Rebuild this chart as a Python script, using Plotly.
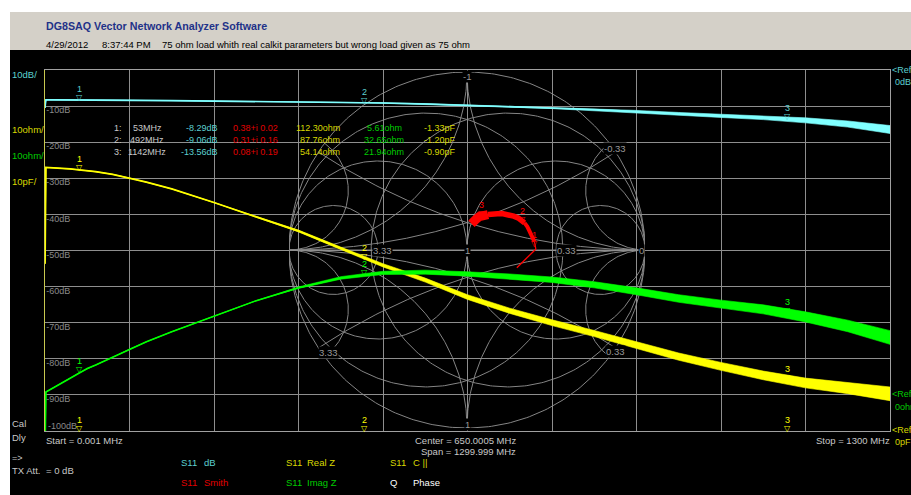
import numpy as np
import plotly.graph_objects as go

W, H = 911, 495

# ---- sweep data: S11 of the 75 ohm load, 0.001 .. 1300 MHz ----
freq_mhz = [0.001, 1.3, 13, 26, 39, 52, 65, 78, 104, 130, 156, 195, 260, 325, 390,
            455, 520, 585, 650, 715, 780, 845, 910, 975, 1040, 1105, 1170, 1235, 1300]
real_z_ohm = [86.3, 113.0, 112.9, 112.8, 112.6, 112.35, 112.1, 111.85, 111.1, 110.1, 108.95,
              107.05, 103.3, 99.3, 95.4, 90.6, 85.9, 81.8, 77.1, 73.3, 70.0, 67.0, 63.8,
              60.6, 57.9, 55.4, 53.3, 51.9, 50.3]
imag_z_ohm = [-18.9, 0.1, 1.3, 2.6, 4.0, 5.4, 6.6, 7.6, 9.7, 12.0, 14.0, 16.8, 21.2, 25.4,
              29.0, 31.7, 33.1, 33.3, 32.8, 32.1, 31.2, 29.8, 28.0, 26.0, 24.4, 23.0, 20.9,
              18.4, 15.2]
# half-width of the measurement noise band of each trace
db_spread = [0.03] * 14 + [0.05, 0.06, 0.08, 0.1, 0.13, 0.16, 0.2, 0.25, 0.3, 0.38, 0.45,
                           0.55, 0.7, 0.85, 1.1]
real_spread = [0.0] * 13 + [0.1, 0.25, 0.35, 0.45, 0.55, 0.65, 0.72, 0.8, 0.85, 0.95, 1.0,
                            1.1, 1.2, 1.35, 1.55, 1.9]
imag_spread = [0.0] * 14 + [0.2, 0.35, 0.45, 0.55, 0.6, 0.7, 0.75, 0.85, 0.95, 1.05, 1.15,
                            1.25, 1.4, 1.6, 1.9]

# ---- markers ----
marker_freq = [53, 492, 1142]
marker_db = [-8.29, -9.06, -13.56]
marker_s11_re = [0.38, 0.31, 0.08]
marker_s11_im = [0.02, 0.16, 0.19]
marker_real = [112.30, 87.76, 54.14]
marker_imag = [5.61, 32.65, 21.94]
marker_cpar = [-1.33, -1.20, -0.90]

# ---- axis scales (10 divisions each) ----
db_range = [-100, 0]
real_range = [40, 140]
imag_range = [-10.7, 89.3]
cpar_range = [0, 100]
db_ticks = [-10, -20, -30, -40, -50, -60, -70, -80, -90]
db_bottom_label = -100

# Smith chart grid values (normalised) and admittance labels
smith_grid = [0.3, 1.0, 3.0]
smith_label_y = [-1j, 1j, 0, 1, 10 / 3, 1 / 3, -1j / 3, 1j / 3, 10j / 3]
smith_label_txt = ['-1', '1', '0', '1', '3.33', '0.33', '-0.33', '0.33', '3.33']

Z0 = 50.0
f = np.array(freq_mhz)
z = np.array(real_z_ohm) + 1j * np.array(imag_z_ohm)
s11 = (z - Z0) / (z + Z0)
s11_db = 20 * np.log10(np.abs(s11))

CYAN, CYAN_TXT = '#80ffff', '#5cd0d0'
YEL, YEL_TXT = '#ffff00', '#d8d800'
GRN, GRN_TXT = '#00ff00', '#00cc00'
RED, RED_TXT = '#ff0000', '#e00000'
GREY_TXT = '#c8c8c8'
SCALE_TXT = '#8a8a8a'
FONT = 'Liberation Sans'

fig = go.Figure()

# ---- Smith chart grid (subplot x/y) ----
t = np.linspace(0, 2 * np.pi, 400)
curves = [np.exp(1j * t)]
for v in smith_grid:
    c, rad = v / (1 + v), 1 / (1 + v)
    curves.append(c + rad * np.exp(1j * t))
    curves.append(-c + rad * np.exp(1j * t))
r_sweep = np.concatenate([np.linspace(0, 5, 300), np.logspace(np.log10(5.05), 4, 120)])
for v in smith_grid:
    for s in (1, -1):
        zz = r_sweep + 1j * s * v
        g = (zz - 1) / (zz + 1)
        curves.append(g)
        curves.append(-g)
curves.append(np.array([-1 + 0j, 1 + 0j]))
gx, gy = [], []
for cv in curves:
    gx += list(cv.real) + [None]
    gy += list(cv.imag) + [None]
fig.add_trace(go.Scatter(x=gx, y=gy, xaxis='x', yaxis='y', mode='lines',
                         line=dict(color='#858585', width=1), hoverinfo='skip',
                         showlegend=False))


# ---- rectangular traces (subplot x2 with overlaid y axes) ----
def band(vals, spread, color, yaxis):
    v = np.asarray(vals)
    s = np.asarray(spread)
    xs = np.concatenate([f, f[::-1]])
    ys = np.concatenate([v + s, (v - s)[::-1]])
    return go.Scatter(x=xs, y=ys, xaxis='x2', yaxis=yaxis, mode='lines', fill='toself',
                      fillcolor=color, line=dict(width=0.6, color=color),
                      hoverinfo='skip', showlegend=False)


def line(vals, color, yaxis, width=1.6):
    return go.Scatter(x=f, y=vals, xaxis='x2', yaxis=yaxis, mode='lines',
                      line=dict(color=color, width=width), hoverinfo='skip',
                      showlegend=False)


fig.add_trace(band(s11_db, db_spread, CYAN, 'y2'))
fig.add_trace(line(s11_db, CYAN, 'y2'))
fig.add_trace(band(real_z_ohm, real_spread, YEL, 'y4'))
fig.add_trace(line(real_z_ohm, YEL, 'y4', 1.8))
fig.add_trace(band(imag_z_ohm, imag_spread, GRN, 'y5'))
fig.add_trace(line(imag_z_ohm, GRN, 'y5', 1.6))

# ---- Smith trace (subplot x3/y3, on top) ----
red_segments = [(0.0, 130, 1.3), (130, 455, 4.0), (455, 1040, 5.5), (1040, 1300, 9.0)]
for lo, hi, wd in red_segments:
    sel = (f >= lo) & (f <= hi)
    fig.add_trace(go.Scatter(x=s11.real[sel], y=s11.imag[sel], xaxis='x3', yaxis='y3',
                             mode='lines', line=dict(color=RED, width=wd),
                             hoverinfo='skip', showlegend=False))

# ---- layout / axes ----
smith_x_dom = [(467 - 178) / W, (467 + 178) / W]
smith_y_dom = [1 - (250 + 178) / H, 1 - (250 - 178) / H]
hidden = dict(visible=False, fixedrange=True)
rect_x_dom = [45 / W, 890 / W]
rect_y_dom = [1 - 431 / H, 1 - 70 / H]

layout = dict(
    width=W, height=H, margin=dict(l=0, r=0, t=0, b=0),
    paper_bgcolor='white', plot_bgcolor='rgba(0,0,0,0)', showlegend=False,
    xaxis=dict(domain=smith_x_dom, range=[-1, 1], anchor='y', **hidden),
    yaxis=dict(domain=smith_y_dom, range=[-1, 1], anchor='x', **hidden),
    xaxis3=dict(domain=smith_x_dom, range=[-1, 1], anchor='y3', **hidden),
    yaxis3=dict(domain=smith_y_dom, range=[-1, 1], anchor='x3', **hidden),
    xaxis2=dict(domain=rect_x_dom, range=[0, 1300], anchor='y2', tick0=0, dtick=130,
                showgrid=True, gridcolor='#8e8e8e', gridwidth=1, zeroline=False,
                showticklabels=False, ticks='', showline=True, linecolor='#a0a0a0',
                linewidth=1, mirror=True, fixedrange=True),
    yaxis2=dict(domain=rect_y_dom, range=db_range, anchor='x2', tickmode='array',
                tickvals=db_ticks, ticktext=[f'{v}dB' for v in db_ticks],
                ticklabelposition='inside', ticks='', ticklen=0, ticklabelshift=4,
                tickfont=dict(family=FONT, size=9, color=SCALE_TXT),
                showgrid=True, gridcolor='#8e8e8e', gridwidth=1, zeroline=False,
                showline=True, linecolor='#c8c850', linewidth=1, fixedrange=True),
    yaxis4=dict(range=real_range, overlaying='y2', anchor='x2', side='right',
                showgrid=False, zeroline=False, showticklabels=False, ticks='',
                showline=True, linecolor='#a0a0a0', linewidth=1, fixedrange=True),
    yaxis5=dict(range=imag_range, overlaying='y2', anchor='x2', **hidden),
    yaxis6=dict(range=cpar_range, overlaying='y2', anchor='x2', **hidden),
)
fig.update_layout(**layout)

# window background: grey header band and black display area
fig.add_shape(type='rect', xref='paper', yref='paper', x0=10 / W, x1=1,
              y0=1 - 50 / H, y1=1 - 12 / H, fillcolor='#d4d0c8', line_width=0, layer='below')
fig.add_shape(type='rect', xref='paper', yref='paper', x0=10 / W, x1=1,
              y0=0, y1=1 - 50 / H, fillcolor='black', line_width=0, layer='below')

ann = []


def text(s, x, y, color=GREY_TXT, size=9, anchor='left', bold=False, family=FONT):
    ann.append(dict(x=x / W, y=1 - y / H, xref='paper', yref='paper',
                    text=f'<b>{s}</b>' if bold else s, showarrow=False,
                    xanchor=anchor, yanchor='middle', borderpad=0,
                    font=dict(family=family, size=size, color=color)))


# bottom scale label of the dB axis (sits on the frame edge)
ann.append(dict(x=0, y=db_bottom_label, xref='x2', yref='y2', text=f'{db_bottom_label}dB',
                showarrow=False, xanchor='left', yanchor='middle', xshift=2, yshift=5,
                borderpad=0, font=dict(family=FONT, size=9, color=SCALE_TXT)))

# header
text('DG8SAQ Vector Network Analyzer Software', 45, 26, '#1f3289', 10.7, bold=True)
text('4/29/2012', 45, 44, 'black', 9.5)
text('8:37:44 PM', 101, 44, 'black', 9.5)
text('75 ohm load whith real calkit parameters but wrong load given as 75 ohm', 161, 44,
     'black', 9.5)

# scale labels on the left
text('10dB/', 11, 75, CYAN_TXT, 9.5)
text('10ohm/', 11, 129, YEL_TXT, 9.5)
text('10ohm/', 11, 155, GRN_TXT, 9.5)
text('10pF/', 11, 182, YEL_TXT, 9.5)
text('Cal', 11, 423, GREY_TXT, 9.5)
text('Dly', 11, 437, GREY_TXT, 9.5)
text('=>', 11, 458, GREY_TXT, 9)
text('TX Att.', 11, 470, GREY_TXT, 9.5)
text('= 0 dB', 45, 470, GREY_TXT, 9.5)

# reference level tags on the right
text('<Ref', 891, 70, CYAN_TXT, 9)
text('0dB', 894, 82, CYAN_TXT, 9)
text('<Ref', 891, 394, GRN_TXT, 9)
text('0ohm', 894, 407, GRN_TXT, 9)
text('<Ref', 891, 430, YEL_TXT, 9)
text('0pF', 894, 442, YEL_TXT, 9)

# sweep annotations
text('Start = 0.001 MHz', 45, 440, GREY_TXT, 9.5)
text('Center = 650.0005 MHz', 517, 440, GREY_TXT, 9.5, anchor='right')
text('Span = 1299.999 MHz', 517, 451, GREY_TXT, 9.5, anchor='right')
text('Stop = 1300 MHz', 891, 440, GREY_TXT, 9.5, anchor='right')

# trace legend
for s, x, y, col in [('S11', 180, 462, CYAN_TXT), ('dB', 203, 462, CYAN_TXT),
                     ('S11', 180, 482, RED_TXT), ('Smith', 203, 482, RED_TXT),
                     ('S11', 285, 462, YEL_TXT), ('Real Z', 306, 462, YEL_TXT),
                     ('S11', 285, 482, GRN_TXT), ('Imag Z', 306, 482, GRN_TXT),
                     ('S11', 389, 462, YEL_TXT), ('C ||', 412, 462, YEL_TXT),
                     ('Q', 389, 482, 'white'), ('Phase', 412, 482, 'white')]:
    text(s, x, y, col, 9.5)

# marker readout table
for i in range(3):
    y = 128 + 12 * i
    text(f'{i + 1}:', 113, y, GREY_TXT, 9)
    text(f'{marker_freq[i]}MHz', 147, y, GREY_TXT, 9, anchor='center')
    text(f'{marker_db[i]:.2f}dB', 219, y, CYAN_TXT, 9, anchor='right')
    text(f'{marker_s11_re[i]:.2f}+i {marker_s11_im[i]:.2f}', 232, y, RED_TXT, 9)
    text(f'{marker_real[i]:.2f}ohm', 341, y, YEL_TXT, 9, anchor='right')
    text(f'{marker_imag[i]:.2f}ohm', 384, y, GRN_TXT, 9, anchor='center')
    text(f'{marker_cpar[i]:.2f}pF', 457, y, YEL_TXT, 9, anchor='right')

# Smith chart admittance labels
label_style = [dict(xanchor='center', yshift=-4), dict(xanchor='center', yshift=4),
               dict(xanchor='right', yshift=0), dict(xanchor='center', yshift=0),
               dict(xanchor='left', xshift=1), dict(xanchor='left', xshift=0),
               dict(xanchor='left', xshift=-6, yshift=-5),
               dict(xanchor='left', xshift=-4, yshift=5),
               dict(xanchor='left', xshift=0, yshift=-5)]
for yv, s, st in zip(smith_label_y, smith_label_txt, label_style):
    yv = complex(yv)
    g = (1 - yv) / (1 + yv)
    ann.append(dict(x=g.real, y=g.imag, xref='x', yref='y', text=s, showarrow=False,
                    yanchor='middle', bgcolor='black', borderpad=0,
                    font=dict(family=FONT, size=9.5, color='#9a9a9a'), **st))


def marker_glyph(x, y, num, color, xref, yref):
    ann.append(dict(x=x, y=y, xref=xref, yref=yref, text='▽', showarrow=False,
                    xanchor='center', yanchor='bottom', yshift=-3, borderpad=0,
                    font=dict(family='DejaVu Sans', size=8, color=color)))
    ann.append(dict(x=x, y=y, xref=xref, yref=yref, text=str(num), showarrow=False,
                    xanchor='center', yanchor='bottom', yshift=5, borderpad=0,
                    font=dict(family=FONT, size=9, color=color)))


for i in range(3):
    n = i + 1
    marker_glyph(marker_freq[i], marker_db[i], n, CYAN_TXT, 'x2', 'y2')
    marker_glyph(marker_freq[i], marker_real[i], n, YEL, 'x2', 'y4')
    marker_glyph(marker_freq[i], marker_imag[i], n, GRN, 'x2', 'y5')
    marker_glyph(marker_freq[i], max(marker_cpar[i], cpar_range[0]), n, YEL, 'x2', 'y6')
    marker_glyph(marker_s11_re[i], marker_s11_im[i], n, RED, 'x3', 'y3')

fig.update_layout(annotations=ann)
fig.write_html("out.html")
